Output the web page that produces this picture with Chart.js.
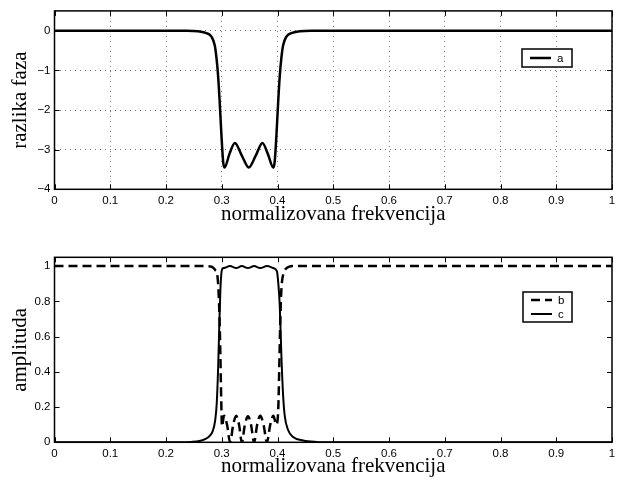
<!DOCTYPE html>
<html>
<head>
<meta charset="utf-8">
<script src="https://cdn.jsdelivr.net/npm/chart.js@4.4.1/dist/chart.umd.min.js"></script>
<style>
  html, body { margin: 0; padding: 0; background: #fff; }
  canvas { display: block; }
</style>
</head>
<body>
<canvas id="phase" width="621" height="240"></canvas>
<canvas id="amp" width="621" height="241"></canvas>
<script>
// tick labels
const xTicks = [0, 0.1, 0.2, 0.3, 0.4, 0.5, 0.6, 0.7, 0.8, 0.9, 1];
const phaseTicks = [-4, -3, -2, -1, 0];
const ampTicks = [0, 0.2, 0.4, 0.6, 0.8, 1];

// a: razlika faza
const aFreq = [0, 0.2, 0.2375, 0.2575, 0.2725, 0.2815, 0.2875, 0.2905, 0.2935, 0.2965, 0.2995, 0.3025, 0.305,
  0.314, 0.3235, 0.336, 0.3485, 0.361, 0.373, 0.3825, 0.3925,
  0.395, 0.398, 0.401, 0.404, 0.407, 0.41, 0.416, 0.425, 0.44, 0.46, 0.5, 1];
const aPhase = [0, 0, 0, -0.015, -0.06, -0.15, -0.37, -0.68, -1.15, -1.85, -2.65, -3.3, -3.45,
  -3.1, -2.83, -3.15, -3.45, -3.15, -2.83, -3.1, -3.45,
  -3.3, -2.65, -1.85, -1.15, -0.68, -0.37, -0.15, -0.06, -0.015, 0, 0, 0];

// b: isprekidana amplituda
const bFreq = [0, 0.27, 0.28, 0.285, 0.289, 0.2915, 0.2935, 0.2955, 0.2975, 0.299, 0.3005,
  0.304, 0.3095, 0.315, 0.3205, 0.326, 0.331, 0.336, 0.3415, 0.347, 0.3525, 0.358, 0.3635,
  0.369, 0.375, 0.381, 0.387, 0.3925, 0.398, 0.4015, 0.403, 0.4045, 0.406, 0.408, 0.411,
  0.415, 0.42, 0.43, 1];
const bAmp = [1, 1, 0.998, 0.99, 0.975, 0.96, 0.9, 0.76, 0.5, 0.25, 0.09,
  0.15, 0.1, 0, 0.1, 0.15, 0.1, 0, 0.1, 0.148, 0.1, 0, 0.1,
  0.15, 0.1, 0, 0.1, 0.15, 0.1, 0.2, 0.4, 0.62, 0.8, 0.91, 0.96,
  0.985, 0.996, 1, 1];

// c: puna amplituda
const cFreq = [0, 0.22, 0.245, 0.26, 0.27, 0.278, 0.284, 0.288, 0.291, 0.2935, 0.2955, 0.2975,
  0.2995, 0.301, 0.304, 0.315, 0.326, 0.336, 0.347, 0.358, 0.369, 0.381, 0.3925, 0.399,
  0.4015, 0.404, 0.407, 0.41, 0.413, 0.419, 0.428, 0.446, 0.47, 0.5, 1];
const cAmp = [0, 0, 0.002, 0.007, 0.018, 0.035, 0.065, 0.12, 0.22, 0.42, 0.65, 0.86,
  0.965, 0.985, 0.989, 1, 0.989, 1, 0.989, 1, 0.989, 1, 0.989, 0.97,
  0.9, 0.78, 0.49, 0.27, 0.15, 0.07, 0.03, 0.01, 0.002, 0, 0];

const SANS = "'Liberation Sans', Arial, sans-serif";
const SERIF = "'Liberation Serif', 'Times New Roman', serif";
const TICK_LEN = 5;

function toPoints(xs, ys) {
  return xs.map((x, i) => ({ x, y: ys[i] }));
}

// matlab minus
function fmtTick(v) {
  return v < 0 ? "\u2212" + String(-v) : String(v);
}

// okvir, unutrasnji tickovi i legenda kao u matlabu
const matlabAxes = {
  id: "matlabAxes",
  afterDatasetsDraw(chart, args, opts) {
    const { ctx, chartArea: a, scales } = chart;
    ctx.save();
    ctx.strokeStyle = "#000";
    ctx.lineWidth = 1;
    ctx.setLineDash([]);
    ctx.beginPath();
    for (const t of scales.x.ticks) {
      const px = Math.round(scales.x.getPixelForValue(t.value)) + 0.5;
      ctx.moveTo(px, a.bottom); ctx.lineTo(px, a.bottom - TICK_LEN);
      ctx.moveTo(px, a.top); ctx.lineTo(px, a.top + TICK_LEN);
    }
    for (const t of scales.y.ticks) {
      const py = Math.round(scales.y.getPixelForValue(t.value)) + 0.5;
      ctx.moveTo(a.left, py); ctx.lineTo(a.left + TICK_LEN, py);
      ctx.moveTo(a.right, py); ctx.lineTo(a.right - TICK_LEN, py);
    }
    ctx.stroke();
    ctx.lineWidth = 1.5;
    ctx.strokeRect(a.left, a.top, a.right - a.left, a.bottom - a.top);

    const box = opts.box;
    if (box) {
      ctx.fillStyle = "#fff";
      ctx.fillRect(box.x, box.y, box.w, box.h);
      ctx.lineWidth = 1.5;
      ctx.strokeRect(box.x, box.y, box.w, box.h);
      const ds = chart.data.datasets;
      ctx.font = "11.5px " + SANS;
      ctx.textBaseline = "middle";
      ctx.textAlign = "left";
      ds.forEach((d, i) => {
        const ry = box.y + box.h / 2 + (i - (ds.length - 1) / 2) * 14;
        ctx.beginPath();
        ctx.lineWidth = d.borderWidth;
        ctx.setLineDash(d.borderDash || []);
        ctx.moveTo(box.x + 8, ry);
        ctx.lineTo(box.x + 29, ry);
        ctx.stroke();
        ctx.setLineDash([]);
        ctx.fillStyle = "#000";
        ctx.fillText(d.label, box.x + 35, ry + 0.5);
      });
    }
    ctx.restore();
  },
};

function makeChart(canvasId, cfg) {
  const canvas = document.getElementById(canvasId);
  return new Chart(canvas.getContext("2d"), {
    type: "line",
    data: { datasets: cfg.datasets },
    plugins: [matlabAxes],
    options: {
      responsive: false,
      animation: false,
      events: [],
      layout: { padding: { left: 0, right: 9, top: cfg.top, bottom: 0 } },
      elements: { point: { radius: 0 }, line: { cubicInterpolationMode: "monotone" } },
      plugins: {
        legend: { display: false },
        tooltip: { enabled: false },
        matlabAxes: { box: cfg.legendBox },
      },
      scales: {
        x: {
          type: "linear",
          min: 0,
          max: 1,
          afterBuildTicks: (s) => { s.ticks = xTicks.map((v) => ({ value: v })); },
          afterFit: (s) => { s.height = cfg.xHeight; },
          grid: { display: cfg.grid, drawTicks: false, color: "rgba(0,0,0,0.55)", lineWidth: 1 },
          border: { display: false, dash: [1, 4] },
          ticks: { padding: 4.5, color: "#000", maxRotation: 0, font: { family: SANS, size: 11.5 }, callback: fmtTick },
          title: { display: true, text: "normalizovana frekvencija", color: "#000", font: { family: SERIF, size: 21 }, padding: { top: 0, bottom: cfg.xTitlePad } },
        },
        y: {
          type: "linear",
          min: cfg.yMin,
          max: cfg.yMax,
          afterBuildTicks: (s) => { s.ticks = cfg.yTicks.map((v) => ({ value: v })); },
          afterFit: (s) => { s.width = 54.5; },
          grid: { display: cfg.grid, drawTicks: false, color: "rgba(0,0,0,0.55)", lineWidth: 1 },
          border: { display: false, dash: [1, 4] },
          ticks: { padding: 4, color: "#000", font: { family: SANS, size: 11.5 }, callback: fmtTick },
          title: { display: true, text: cfg.yTitle, color: "#000", font: { family: SERIF, size: 21 }, padding: { top: 8, bottom: 0 } },
        },
      },
    },
  });
}

makeChart("phase", {
  top: 3,
  xHeight: 50.7,
  xTitlePad: 12.5,
  grid: true,
  yMin: -4,
  yMax: 0.5,
  yTicks: phaseTicks,
  yTitle: "razlika faza",
  legendBox: { x: 522, y: 49, w: 50, h: 18 },
  datasets: [
    { label: "a", data: toPoints(aFreq, aPhase), borderColor: "#000", borderWidth: 2.5, fill: false },
  ],
});

makeChart("amp", {
  top: 17.3,
  xHeight: 38.7,
  xTitlePad: 1.5,
  grid: false,
  yMin: 0,
  yMax: 1.05,
  yTicks: ampTicks,
  yTitle: "amplituda",
  legendBox: { x: 523, y: 52, w: 49, h: 30 },
  datasets: [
    { label: "b", data: toPoints(bFreq, bAmp), borderColor: "#000", borderWidth: 2.5, borderDash: [9, 5], fill: false },
    { label: "c", data: toPoints(cFreq, cAmp), borderColor: "#000", borderWidth: 2, fill: false },
  ],
});
</script>
</body>
</html>
